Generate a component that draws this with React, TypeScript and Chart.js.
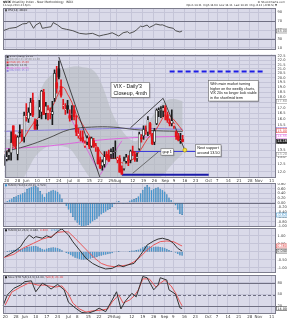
import { useEffect, useRef } from 'react';
import { Chart, registerables } from 'chart.js';

Chart.register(...registerables);

const FONT = '"DejaVu Sans", Verdana, sans-serif';
const NOTE_FONT = '"Liberation Sans", Arial, sans-serif';
const BG = '#dadae9';
const GRID = '#c5c5d8';
const STRONG = '#6f6f82';
const FRAME = '#7d7d8d';
const LABEL = '#3a3a3a';

// ---------- categories (trading days) ----------
const mayDays = [17, 20, 21, 22, 23, 24, 28, 29, 30, 31];
const junDays = [3, 4, 5, 6, 7, 10, 11, 12, 13, 14, 17, 18, 19, 20, 21, 24, 25, 26, 27, 28];
const julDays = [1, 2, 3, 5, 8, 9, 10, 11, 12, 15, 16, 17, 18, 19, 22, 23, 24, 25, 26, 29, 30, 31];
const augDays = [1, 2, 5, 6, 7, 8, 9, 12, 13, 14, 15, 16, 19, 20, 21, 22, 23, 26, 27, 28, 29, 30];
const sepDays = [3, 4, 5, 6, 9, 10, 11, 12, 13, 16, 17, 18, 19, 20, 23, 24, 25, 26, 27, 30];
const octDays = [1, 2, 3, 4, 7, 8, 9, 10, 11, 14, 15, 16, 17, 18, 21, 22, 23, 24, 25, 28, 29, 30, 31];
const novDays = [1, 4, 5, 6, 7, 8, 11, 12, 13];

const dates: string[] = [
  ...mayDays.map((d) => `May ${d}`),
  ...junDays.map((d) => `Jun ${d}`),
  ...julDays.map((d) => `Jul ${d}`),
  ...augDays.map((d) => `Aug ${d}`),
  ...sepDays.map((d) => `Sep ${d}`),
  ...octDays.map((d) => `Oct ${d}`),
  ...novDays.map((d) => `Nov ${d}`),
];

const tickDates = ['May 20', 'May 28', 'Jun 3', 'Jun 10', 'Jun 17', 'Jun 24', 'Jul 1', 'Jul 8', 'Jul 15', 'Jul 22', 'Jul 29', 'Aug 1', 'Aug 12', 'Aug 19', 'Aug 26', 'Sep 3', 'Sep 9', 'Sep 16', 'Sep 23', 'Oct 1', 'Oct 7', 'Oct 14', 'Oct 21', 'Oct 28', 'Nov 1', 'Nov 11'];
const tickTexts = ['20', '28', 'Jun', '10', '17', '24', 'Jul', '8', '15', '22', '29', 'Aug', '12', '19', '26', 'Sep', '9', '16', '23', 'Oct', '7', '14', '21', '28', 'Nov', '11'];

// ---------- price (VIX daily OHLC) ----------
const opens = [13.07, 12.84, 13.13, 13.3, 15.4, 14.6, 13.2, 14.9, 14.7, 14.5,
  16.2, 16.0, 16.5, 17.7, 15.8, 15.5, 16.8, 16.6, 18.5, 16.5,
  16.5, 16.6, 16.4, 17.9, 19.5, 21.0, 19.1, 17.2, 16.8, 17.2,
  16.3, 16.4, 16.8, 15.5, 14.6, 14.4, 14.5, 13.8, 14.1, 14.4,
  13.8, 14.2, 13.7, 13.6, 12.8, 12.4, 12.5, 13.2, 13.1, 13.2,
  13.3, 13.4, 12.8, 12.9, 12.2, 12.2, 12.7, 12.8, 12.8, 13.4,
  13.2, 12.9, 13.6, 14.4, 14.6, 14.9, 14.9, 15.6, 14.7, 14.1,
  15.6, 16.7, 16.8, 16.7, 17.0, 16.3, 15.7, 15.6, 15.4, 14.9,
  14.6, 14.2, 14.31];
const highs = [13.2, 13.4, 13.6, 14.92, 15.4, 14.7, 14.6, 15.5, 15.1, 16.6,
  17.4, 17.0, 17.9, 18.4, 16.0, 15.9, 17.7, 18.7, 18.8, 17.5,
  17.2, 17.0, 17.6, 20.9, 21.3, 21.91, 19.8, 17.8, 17.4, 17.7,
  16.8, 17.2, 17.2, 16.3, 15.2, 15.0, 15.0, 14.2, 14.6, 14.5,
  14.5, 14.4, 14.0, 13.7, 13.0, 12.8, 13.4, 13.4, 13.5, 13.6,
  13.7, 14.2, 13.0, 13.1, 12.4, 13.0, 13.2, 13.1, 13.5, 13.8,
  13.4, 13.3, 14.9, 14.7, 15.4, 15.4, 16.2, 15.7, 14.8, 15.2,
  16.9, 17.0, 17.1, 17.2, 17.2, 16.6, 16.0, 16.8, 15.6, 15.0,
  14.8, 14.8, 14.64];
const lows = [12.41, 12.73, 12.8, 12.78, 13.8, 13.6, 12.8, 14.5, 14.2, 14.1,
  15.8, 15.7, 16.3, 16.2, 15.1, 15.1, 16.1, 16.0, 16.4, 16.0,
  15.9, 16.0, 15.5, 17.6, 18.4, 19.9, 18.0, 16.9, 16.4, 16.5,
  15.8, 15.9, 15.9, 14.6, 14.4, 14.2, 14.1, 13.7, 13.9, 13.6,
  13.7, 13.7, 13.4, 12.5, 12.2, 12.1, 12.3, 12.8, 12.7, 12.9,
  12.9, 12.9, 12.6, 11.98, 11.84, 12.1, 12.6, 12.4, 12.6, 13.1,
  12.7, 12.7, 13.5, 14.1, 14.3, 14.7, 14.6, 14.7, 13.9, 13.9,
  15.5, 16.2, 16.1, 16.2, 15.9, 15.7, 15.4, 15.4, 15.2, 14.3,
  14.2, 14.0, 14.11];
const closes = [12.45, 13.02, 13.37, 14.07, 14.01, 13.84, 14.48, 14.83, 14.53, 16.3,
  16.24, 16.58, 17.5, 16.35, 15.14, 15.44, 17.07, 18.59, 16.41, 17.15,
  16.8, 16.61, 16.64, 20.49, 18.9, 20.11, 18.21, 17.21, 16.86, 16.86,
  16.07, 16.44, 16.2, 14.89, 14.78, 14.35, 14.21, 14.01, 14.42, 13.79,
  14.41, 13.78, 13.77, 12.54, 12.29, 12.66, 13.02, 12.97, 12.72, 13.39,
  13.39, 13.45, 12.94, 11.98, 11.84, 12.72, 12.98, 12.73, 13.41, 13.28,
  12.81, 13.04, 14.73, 14.37, 15.1, 14.91, 15.92, 14.76, 13.98, 14.99,
  16.77, 16.81, 16.81, 17.01, 16.61, 15.88, 15.58, 15.85, 15.63, 14.53,
  14.28, 14.29, 14.16];

// ---------- overlays (x = trading-day index) ----------
const bandAt = [0, 4, 8, 11, 14, 18, 22, 26, 30, 33, 36, 40, 43, 46, 49, 52, 55, 58, 61, 64, 67, 70, 73, 76, 79, 82];
const bbUpper = [14.3, 14.4, 14.8, 15.6, 17.2, 19.4, 20.4, 20.9, 21.2, 21.3, 21.2, 21.0, 20.2, 18.6, 16.8, 15.6, 14.8, 14.3, 14.2, 14.9, 15.9, 16.8, 17.5, 17.8, 17.8, 17.6];
const bbLower = [11.2, 11.3, 11.5, 12.2, 13.0, 13.6, 13.9, 13.8, 13.6, 13.0, 12.3, 11.5, 11.2, 11.0, 11.0, 11.1, 11.1, 11.2, 11.3, 11.3, 11.4, 11.5, 11.8, 12.3, 12.8, 13.2];
const emaAt = [0, 3, 8, 12, 16, 20, 23, 25, 27, 29, 31, 33, 36, 39, 42, 45, 48, 51, 54, 57, 60, 63, 66, 69, 72, 74, 76, 79, 82];
const emaVals = [13.3, 13.6, 14.2, 15.3, 16.2, 16.6, 17.5, 18.5, 19.0, 18.3, 17.5, 16.4, 15.5, 14.6, 13.9, 13.2, 12.9, 12.9, 12.6, 12.6, 13.0, 13.6, 14.4, 14.9, 15.8, 16.4, 16.3, 15.7, 15.0];
const ma50At = [0, 10, 20, 30, 40, 50, 60, 70, 82];
const ma50Vals = [13.4, 13.8, 14.4, 15.1, 15.3, 15.3, 15.1, 15.0, 14.95];
const ma100At = [0, 20, 40, 60, 82];
const ma100Vals = [13.6, 13.8, 14.2, 14.45, 14.55];
const ma200At = [0, 30, 60, 82];
const ma200Vals = [14.95, 15.1, 15.2, 15.12];

const trendDownAt = [25, 44];
const trendDownVals = [22.4, 11.6];
const triUpAt = [58, 73];
const triUpVals = [15.25, 17.9];
const triDownAt = [73, 83];
const triDownVals = [17.9, 13.5];
const gapLineAt = [59, 71];
const gapLineVals = [11.9, 13.4];
const pinkDownAt = [29, 43];
const pinkDownVals = [16.6, 12.1];
const pinkUpAt = [44, 54];
const pinkUpVals = [11.8, 14.2];
const supportAt = [59, 88];
const supportVal = 13.4;
const floorAt = [54, 94];
const floorVal = 11.8;
const targetAt = [76, 119];
const targetVal = 20.7;
const markerAt = 83;
const markerVal = 13.5;

// ---------- indicator panels ----------
const rsiAt = [0, 3, 6, 9, 11, 12, 14, 15, 17, 18, 20, 22, 23, 25, 27, 29, 32, 35, 38, 41, 44, 46, 48, 50, 53, 55, 57, 58, 60, 61, 63, 64, 66, 67, 69, 70, 72, 73, 75, 76, 78, 79, 81, 82];
const rsiVals = [48.6, 54, 56, 64, 65, 70.5, 54, 61.5, 67, 54, 56, 57.7, 67, 61.5, 54, 51.8, 48.6, 42.7, 41, 42.7, 36.6, 39, 41, 44, 36.6, 44, 46.4, 42.7, 46.4, 50, 59, 57.7, 61.5, 56, 60.8, 63.8, 61.5, 62, 57.7, 56, 54, 48.6, 45.7, 48];

const macdHist = [0.02, 0.04, 0.08, 0.14, 0.18, 0.24, 0.28, 0.33, 0.36, 0.42,
  0.45, 0.58, 0.64, 0.68, 0.7, 0.72, 0.66, 0.5, 0.36, 0.26,
  0.4, 0.47, 0.52, 0.55, 0.52, 0.47, 0.36, 0.18, -0.02, -0.15,
  -0.3, -0.45, -0.6, -0.75, -0.85, -0.95, -1.0, -1.0, -0.98, -0.94,
  -0.88, -0.8, -0.74, -0.68, -0.58, -0.5, -0.44, -0.38, -0.32, -0.26,
  -0.18, -0.06, 0.05, 0.08, 0.02, -0.04, -0.03, 0.03, 0.1, 0.14,
  0.16, 0.2, 0.28, 0.4, 0.55, 0.68, 0.75, 0.68, 0.55, 0.6,
  0.64, 0.66, 0.6, 0.55, 0.48, 0.36, 0.22, 0.12, 0.04, -0.12,
  -0.3, -0.48, -0.52];

const macdAt = [1, 5, 8, 10, 12, 14, 15, 18, 20, 22, 24, 26, 27, 30, 32, 35, 38, 41, 44, 47, 50, 53, 55, 57, 60, 62, 64, 66, 69, 71, 73, 76, 78, 80, 82];
const macdVals = [-0.31, 0.0, 0.31, 0.73, 1.04, 0.84, 0.94, 0.84, 1.0, 0.88, 1.15, 1.36, 1.42, 1.04, 0.62, 0.11, -0.41, -0.73, -0.94, -1.08, -1.04, -0.83, -0.94, -0.83, -0.73, -0.38, 0.0, 0.42, 0.67, 0.79, 0.84, 0.73, 0.53, 0.21, 0.04];
const sigAt = [0, 5, 9, 14, 18, 22, 25, 28, 30, 33, 36, 39, 42, 45, 48, 51, 54, 57, 60, 63, 66, 69, 72, 75, 78, 81, 82];
const sigVals = [-0.38, -0.16, 0.21, 0.53, 0.79, 0.94, 1.21, 1.25, 1.23, 0.84, 0.42, 0.0, -0.41, -0.73, -0.88, -0.94, -0.89, -0.83, -0.63, -0.31, 0.11, 0.42, 0.63, 0.67, 0.63, 0.42, 0.36];

const stoKAt = [0, 2, 5, 8, 10, 13, 15, 18, 20, 22, 25, 28, 30, 33, 36, 39, 42, 44, 47, 50, 52, 54, 56, 59, 61, 64, 66, 69, 71, 72, 75, 76, 79, 81, 82];
const stoKVals = [21, 49, 66, 74, 83, 85, 57, 79, 73, 64, 76, 62, 30, 16, 4, 2, 8, 15, 6, 36, 57, 13, 33, 53, 44, 96, 93, 62, 74, 93, 87, 62, 51, 16, 14];
const stoDAt = [1, 4, 8, 12, 16, 19, 21, 24, 27, 30, 32, 35, 38, 41, 45, 48, 50, 53, 55, 58, 60, 62, 64, 67, 70, 72, 74, 77, 79, 81, 82];
const stoDVals = [23, 56, 69, 80, 74, 74, 72, 69, 72, 51, 28, 13, 5, 8, 10, 13, 31, 49, 28, 36, 46, 62, 90, 90, 69, 79, 87, 72, 54, 31, 21];

// ---------- axis ticks ----------
const mainTicks = [12, 12.5, 13, 13.5, 14, 14.5, 15, 15.5, 16, 16.5, 17, 17.5, 18, 18.5, 19, 19.5, 20, 20.5, 21, 21.5, 22, 22.5];
const rsiTicks = [10, 30, 50, 70, 90];
const histTicks = [-1.0, -0.8, -0.6, -0.4, -0.2, 0, 0.2, 0.4, 0.6, 0.8];
const macdTicks = [-1.0, -0.5, 0, 0.5, 1.0];
const stoTicks = [20, 50, 80];

// ---------- notes ----------
const noteTitle = ["VIX - Daily'3", 'Closeup, 4mth'];
const noteTitleAt = 49;
const noteTitleVal = 19.5;
const noteView = ['With main market turning', 'higher on the weekly charts,', 'VIX 20s no longer look viable', 'in the short/mid term'];
const noteViewAt = 94;
const noteViewVal = 19.7;
const noteSupport = ['Next support', 'around 13.50'];
const noteSupportAt = 88;
const noteSupportVal = 13.9;
const noteGap = ['gap 1'];
const noteGapAt = 72;
const noteGapVal = 13.6;

// ---------- helpers ----------
const tickText = new Map<number, string>(tickDates.map((d, i) => [dates.indexOf(d), tickTexts[i]]));
const last = <T,>(a: T[]) => a[a.length - 1];
const pts = (at: number[], vals: number[]) => at.map((i, k) => ({ x: dates[i], y: vals[k] }));
const flat = (at: number[], v: number) => at.map((i) => ({ x: dates[i], y: v }));

function text(ctx: CanvasRenderingContext2D, s: string, x: number, y: number, size: number, color: string, align: CanvasTextAlign = 'left', weight = '', family = FONT) {
  ctx.font = `${weight} ${size}px ${family}`.trim();
  ctx.fillStyle = color;
  ctx.textAlign = align;
  ctx.textBaseline = 'middle';
  ctx.fillText(s, x, y);
  return ctx.measureText(s).width;
}
function runs(ctx: CanvasRenderingContext2D, parts: [string, string, string?][], x: number, y: number, size: number) {
  let cx = x;
  for (const [s, c, w] of parts) cx += text(ctx, s, cx, y, size, c, 'left', w ?? '');
  return cx;
}
function swatch(ctx: CanvasRenderingContext2D, x: number, y: number, color: string) {
  ctx.fillStyle = color;
  ctx.fillRect(x, y - 1, 2, 2);
}
function noteBox(ctx: CanvasRenderingContext2D, lines: string[], x: number, y: number, size: number, lineH: number, padX: number, weight = '') {
  ctx.font = `${weight} ${size}px ${NOTE_FONT}`.trim();
  const w = Math.max(...lines.map((l) => ctx.measureText(l).width)) + padX * 2;
  const h = lines.length * lineH + 2;
  ctx.fillStyle = 'rgba(60,60,70,0.35)';
  ctx.fillRect(x + 1, y + 1, w, h);
  ctx.fillStyle = '#ffffff';
  ctx.fillRect(x, y, w, h);
  ctx.strokeStyle = '#6a6a6a';
  ctx.lineWidth = 0.6;
  ctx.strokeRect(x, y, w, h);
  lines.forEach((l, i) => text(ctx, l, x + padX, y + 1 + lineH * (i + 0.5), size, '#111', 'left', weight, NOTE_FONT));
}
function tag(chart: any, v: number, s: string, color: string, filled = false, axis = 'y') {
  const { ctx, chartArea: a } = chart;
  const py = chart.scales[axis].getPixelForValue(v);
  ctx.font = `3.4px ${FONT}`;
  const w = ctx.measureText(s).width + 1.6;
  ctx.fillStyle = filled ? color : '#ffffff';
  ctx.fillRect(a.right + 0.5, py - 2, w, 4);
  ctx.strokeStyle = color;
  ctx.lineWidth = 0.5;
  ctx.strokeRect(a.right + 0.5, py - 2, w, 4);
  text(ctx, s, a.right + 1.3, py + 0.1, 3.4, filled ? '#ffffff' : color);
}

type PanelCfg = {
  padTop: number; padBottom: number; xHeight: number; showX: boolean;
  yType?: string; yMin: number; yMax: number; yTicks: number[]; yFmt: (v: number) => string;
  extraScales?: Record<string, any>;
  strong?: number[]; dashed?: number[];
  draw?: (chart: any) => void;
};

function makeConfig(p: PanelCfg, datasets: any[]): any {
  const plugin = {
    id: 'panelDecor',
    beforeDraw(chart: any) {
      const { ctx, chartArea: a } = chart;
      ctx.save();
      ctx.fillStyle = BG;
      ctx.fillRect(a.left, a.top, a.right - a.left, a.bottom - a.top);
      ctx.restore();
    },
    beforeDatasetsDraw(chart: any) {
      const { ctx, chartArea: a, scales } = chart;
      ctx.save();
      ctx.lineWidth = 1;
      ctx.strokeStyle = STRONG;
      for (const v of p.strong ?? []) {
        const py = Math.round(scales.y.getPixelForValue(v)) + 0.5;
        ctx.setLineDash([]);
        ctx.beginPath(); ctx.moveTo(a.left, py); ctx.lineTo(a.right, py); ctx.stroke();
      }
      for (const v of p.dashed ?? []) {
        const py = Math.round(scales.y.getPixelForValue(v)) + 0.5;
        ctx.setLineDash([3, 2]);
        ctx.beginPath(); ctx.moveTo(a.left, py); ctx.lineTo(a.right, py); ctx.stroke();
      }
      ctx.restore();
    },
    afterDraw(chart: any) {
      const { ctx, chartArea: a } = chart;
      ctx.save();
      if (p.draw) p.draw(chart);
      ctx.strokeStyle = FRAME;
      ctx.lineWidth = 1;
      ctx.setLineDash([]);
      ctx.strokeRect(Math.round(a.left) + 0.5, Math.round(a.top) + 0.5, Math.round(a.right - a.left) - 1, Math.round(a.bottom - a.top) - 1);
      ctx.restore();
    },
  };
  return {
    type: 'bar',
    data: { labels: dates, datasets },
    plugins: [plugin],
    options: {
      responsive: false,
      animation: false,
      events: [],
      layout: { padding: { left: 3, right: 0, top: p.padTop, bottom: p.padBottom } },
      plugins: {
        legend: { display: false },
        tooltip: { enabled: false },
        filler: { propagate: false, drawTime: 'beforeDatasetsDraw' },
      },
      scales: {
        x: {
          type: 'category',
          offset: false,
          grid: { offset: false, drawTicks: false, lineWidth: 1, color: (c: any) => (tickText.has(c.index) ? GRID : 'rgba(0,0,0,0)') },
          border: { display: false },
          ticks: {
            display: p.showX, autoSkip: false, maxRotation: 0, minRotation: 0, padding: 0.5,
            color: LABEL, font: { size: 4, family: FONT },
            callback: (_v: any, i: number) => tickText.get(i) ?? '',
          },
          afterFit: (s: any) => { s.height = p.xHeight; s.paddingLeft = 0; s.paddingRight = 0; },
        },
        y: {
          type: p.yType ?? 'linear',
          position: 'right',
          min: p.yMin,
          max: p.yMax,
          afterBuildTicks: (s: any) => { s.ticks = p.yTicks.map((v) => ({ value: v })); },
          grid: { drawTicks: false, lineWidth: 1, color: GRID },
          border: { display: false },
          ticks: { autoSkip: false, padding: 1.5, color: LABEL, font: { size: 3.6, family: FONT }, callback: (v: any) => p.yFmt(Number(v)) },
          afterFit: (s: any) => { s.width = 11; s.paddingTop = 0; s.paddingBottom = 0; },
        },
        ...(p.extraScales ?? {}),
      },
    },
  };
}

const lineDs = (data: any[], color: string, width = 1, order = 4, extra: any = {}) => ({
  type: 'line', data, borderColor: color, borderWidth: width, pointRadius: 0, fill: false, order, tension: 0, ...extra,
});

// ---------- panel configs ----------
function rsiConfig() {
  return makeConfig({
    padTop: 8, padBottom: 1, xHeight: 0, showX: false,
    yMin: 5, yMax: 100, yTicks: rsiTicks, yFmt: (v) => String(v), strong: [30, 70],
    draw: (chart) => {
      const { ctx, chartArea: a } = chart;
      runs(ctx, [['$VIX', '#000', 'bold'], [' Volatility Index - New Methodology  INDX', '#333']], 3, 2.3, 3);
      text(ctx, '13-Sep-2013 4:15pm', 3, 5.6, 2.6, '#333');
      text(ctx, '\u00A9 StockCharts.com', 285, 2.3, 2.8, '#333', 'right');
      const n = closes.length - 1;
      const chg = closes[n] - closes[n - 1];
      text(ctx, `Open ${opens[n].toFixed(2)}  High ${highs[n].toFixed(2)}  Low ${lows[n].toFixed(2)}  Last ${closes[n].toFixed(2)}  Chg ${chg.toFixed(2)} (${((chg / closes[n - 1]) * 100).toFixed(2)}%) \u25BC`, 277, 5.6, 2.6, '#222', 'right');
      swatch(ctx, a.left + 2, a.top + 2.3, '#555');
      text(ctx, `RSI(14) ${last(rsiVals).toFixed(2)}`, a.left + 5, a.top + 2.3, 2.8, '#333');
      tag(chart, last(rsiVals), last(rsiVals).toFixed(2), '#555');
    },
  }, [
    lineDs(pts(rsiAt, rsiVals), '#505050', 1),
  ]);
}

function mainConfig() {
  const color = closes.map((c, i) => (i > 0 && c < closes[i - 1] ? '#e3141b' : '#1a1a1a'));
  const filled = closes.map((c, i) => c < opens[i]);
  return makeConfig({
    padTop: 1, padBottom: 0, xHeight: 5, showX: true,
    yType: 'logarithmic', yMin: 11.6, yMax: 22.7, yTicks: mainTicks, yFmt: (v) => v.toFixed(1),
    draw: (chart) => {
      const { ctx, chartArea: a, scales } = chart;
      const px = (i: number) => scales.x.getPixelForValue(i);
      const py = (v: number) => scales.y.getPixelForValue(v);
      const legend: [string, string][] = [
        [`$VIX (Daily) ${last(closes).toFixed(2)}`, '#222'],
        [`BB(20,2.0) ${last(bbUpper).toFixed(2)} ${last(bbLower).toFixed(2)}`, '#888'],
        [`EMA(10) ${last(emaVals).toFixed(2)}`, '#e03c3c'],
        [`MA(50) ${last(ma50Vals).toFixed(2)}`, '#505050'],
        [`MA(100) ${last(ma100Vals).toFixed(2)}`, '#dd66dd'],
        [`MA(200) ${last(ma200Vals).toFixed(2)}`, '#8a7fdc'],
      ];
      legend.forEach(([s, c], i) => {
        const y = a.top + 2.2 + i * 2.8;
        swatch(ctx, a.left + 2, y, c);
        text(ctx, s, a.left + 5, y, 2.6, c);
      });
      ctx.save();
      ctx.beginPath();
      ctx.rect(a.left, a.top, a.right - a.left, a.bottom - a.top);
      ctx.clip();
      noteBox(ctx, noteTitle, px(noteTitleAt), py(noteTitleVal), 5.2, 6.4, 2.5);
      noteBox(ctx, noteView, px(noteViewAt), py(noteViewVal), 3.6, 4.6, 1.5);
      noteBox(ctx, noteSupport, px(noteSupportAt), py(noteSupportVal), 3.8, 4.8, 1.5);
      noteBox(ctx, noteGap, px(noteGapAt), py(noteGapVal), 3.8, 4.4, 1.5);
      ctx.restore();
      tag(chart, last(bbUpper), last(bbUpper).toFixed(2), '#888');
      tag(chart, last(ma200Vals), last(ma200Vals).toFixed(2), '#8a7fdc');
      tag(chart, last(emaVals), last(emaVals).toFixed(2), '#e03c3c');
      tag(chart, last(ma100Vals), last(ma100Vals).toFixed(2), '#dd66dd');
      tag(chart, last(closes), last(closes).toFixed(2), '#222', true);
      tag(chart, last(bbLower), last(bbLower).toFixed(2), '#888');
    },
  }, [
    { type: 'line', data: pts(bandAt, bbUpper), borderWidth: 0, borderColor: 'rgba(0,0,0,0)', pointRadius: 0, tension: 0.35, fill: '+1', backgroundColor: 'rgba(178,184,188,0.55)', order: 20 },
    { type: 'line', data: pts(bandAt, bbLower), borderWidth: 0, borderColor: 'rgba(0,0,0,0)', pointRadius: 0, tension: 0.35, fill: false, order: 21 },
    lineDs(pts(ma200At, ma200Vals), '#8a7fdc', 1, 6, { tension: 0.4 }),
    lineDs(pts(ma100At, ma100Vals), '#dd66dd', 1, 6, { tension: 0.4 }),
    lineDs(pts(ma50At, ma50Vals), '#505050', 1, 5, { tension: 0.4 }),
    lineDs(pts(emaAt, emaVals), '#e03c3c', 1, 5, { tension: 0.35 }),
    lineDs(pts(trendDownAt, trendDownVals), '#222', 0.8, 3),
    lineDs(pts(triUpAt, triUpVals), '#222', 0.8, 3),
    lineDs(pts(triDownAt, triDownVals), '#222', 0.8, 3),
    lineDs(pts(gapLineAt, gapLineVals), '#555', 0.8, 3),
    lineDs(pts(pinkDownAt, pinkDownVals), '#e055e0', 0.8, 3),
    lineDs(pts(pinkUpAt, pinkUpVals), '#e055e0', 0.8, 3),
    lineDs(flat(supportAt, supportVal), '#3b3bdc', 1, 3),
    lineDs(flat(floorAt, floorVal), '#1a1aa8', 2, 3),
    lineDs(flat(targetAt, targetVal), '#1c1ce6', 2, 3, { borderDash: [5, 3] }),
    {
      type: 'bar', order: 2, grouped: false, barThickness: 1,
      data: lows.map((l, i) => [l, highs[i]]),
      backgroundColor: color,
    },
    {
      type: 'bar', order: 1, grouped: false, barThickness: 2, borderSkipped: false,
      data: opens.map((o, i) => (Math.abs(o - closes[i]) < 0.04 ? [o - 0.04, o + 0.04] : [o, closes[i]])),
      backgroundColor: filled.map((f, i) => (f ? color[i] : '#f4f4f4')),
      borderColor: color,
      borderWidth: filled.map((f) => (f ? 0 : 0.6)),
    },
    {
      type: 'line', order: 0, data: [{ x: dates[markerAt], y: markerVal }], showLine: false,
      pointRadius: 2, pointBackgroundColor: '#f3e23a', pointBorderColor: '#a08a00', pointBorderWidth: 0.6,
    },
  ]);
}

function histConfig() {
  return makeConfig({
    padTop: 0, padBottom: 1, xHeight: 0, showX: false,
    yMin: -1.03, yMax: 0.84, yTicks: histTicks, yFmt: (v) => v.toFixed(2), strong: [0],
    draw: (chart) => {
      const { ctx, chartArea: a } = chart;
      swatch(ctx, a.left + 2, a.top + 2.3, '#3b92cd');
      text(ctx, `MACD-Hist(12,26,9) ${last(macdHist).toFixed(3)}`, a.left + 5, a.top + 2.3, 2.8, '#333');
      tag(chart, last(macdHist), last(macdHist).toFixed(3), '#3b92cd');
    },
  }, [
    { type: 'bar', data: macdHist, backgroundColor: '#3b92cd', borderColor: '#1e6496', borderWidth: 0.4, borderSkipped: false, barPercentage: 0.8, categoryPercentage: 1, order: 2 },
  ]);
}

function macdConfig() {
  return makeConfig({
    padTop: 1, padBottom: 1, xHeight: 0, showX: false,
    yMin: -1.33, yMax: 1.48, yTicks: macdTicks, yFmt: (v) => v.toFixed(2),
    extraScales: { y2: { type: 'linear', display: false, min: -2.66, max: 2.96 } },
    draw: (chart) => {
      const { ctx, chartArea: a } = chart;
      swatch(ctx, a.left + 2, a.top + 2.3, '#222');
      runs(ctx, [
        ['MACD(12,26,9) ', '#333'],
        [`${last(macdVals).toFixed(3)}, `, '#222'],
        [`${last(sigVals).toFixed(3)}`, '#e03c3c'],
        [`, ${last(macdHist).toFixed(3)}`, '#3b92cd'],
      ], a.left + 5, a.top + 2.3, 2.8);
      tag(chart, last(sigVals), last(sigVals).toFixed(3), '#e03c3c');
      tag(chart, last(macdVals), last(macdVals).toFixed(3), '#222');
    },
  }, [
    lineDs(pts(macdAt, macdVals), '#333', 1, 1),
    lineDs(pts(sigAt, sigVals), '#e8595a', 1, 2),
    { type: 'bar', yAxisID: 'y2', data: macdHist, backgroundColor: '#3b92cd', borderColor: '#1e6496', borderWidth: 0.4, borderSkipped: false, barPercentage: 0.8, categoryPercentage: 1, order: 3 },
  ]);
}

function stoConfig() {
  return makeConfig({
    padTop: 1, padBottom: 0, xHeight: 6, showX: true,
    yMin: 0, yMax: 100, yTicks: stoTicks, yFmt: (v) => String(v), strong: [20, 80], dashed: [50],
    draw: (chart) => {
      const { ctx, chartArea: a } = chart;
      swatch(ctx, a.left + 2, a.top + 2.3, '#222');
      runs(ctx, [
        [`Slow STO %K(14,3) ${last(stoKVals).toFixed(2)}, `, '#333'],
        [`%D(3) ${last(stoDVals).toFixed(2)}`, '#e03c3c'],
      ], a.left + 5, a.top + 2.3, 2.8);
      tag(chart, last(stoKVals), last(stoKVals).toFixed(2), '#222');
    },
  }, [
    lineDs(pts(stoKAt, stoKVals), '#333', 1, 1),
    lineDs(pts(stoDAt, stoDVals), '#e8595a', 1, 2),
  ]);
}

const panels = [
  { top: 0, height: 51, cfg: rsiConfig },
  { top: 50, height: 133, cfg: mainConfig },
  { top: 183, height: 45, cfg: histConfig },
  { top: 227, height: 47, cfg: macdConfig },
  { top: 274, height: 46, cfg: stoConfig },
];

export default function App() {
  const refs = useRef<(HTMLCanvasElement | null)[]>([]);
  useEffect(() => {
    const charts = panels.map((p, i) => new Chart(refs.current[i] as HTMLCanvasElement, p.cfg()));
    return () => charts.forEach((c) => c.destroy());
  }, []);
  return (
    <div style={{ position: 'fixed', left: 0, top: 0, width: 287, height: 320, background: '#ffffff', overflow: 'hidden' }}>
      {panels.map((p, i) => (
        <canvas
          key={i}
          ref={(el) => { refs.current[i] = el; }}
          width={287}
          height={p.height}
          style={{ position: 'absolute', left: 0, top: p.top, width: 287, height: p.height }}
        />
      ))}
    </div>
  );
}
